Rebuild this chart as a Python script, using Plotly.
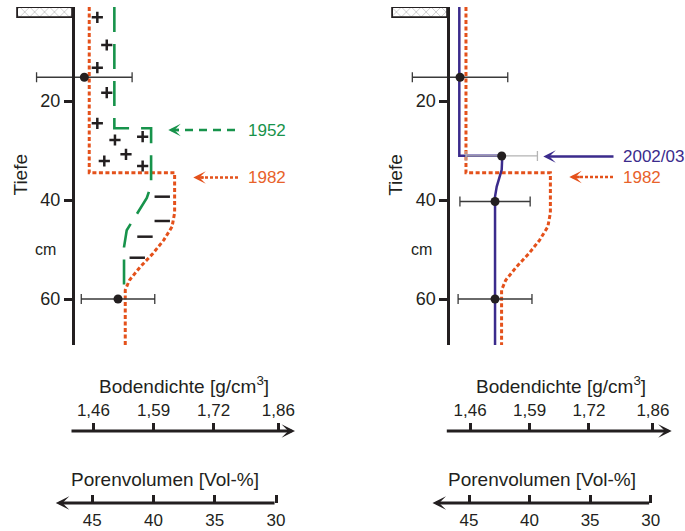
import plotly.graph_objects as go

W, H = 685, 531
INK = "#231F20"
GREEN = "#17934B"
ORANGE = "#E4511B"
ORANGE_TXT = "#E8622A"
PURPLE = "#3B2B8C"
FONT = "Liberation Sans, Arial, sans-serif"

# ---------------- data ----------------
DEPTH_TICKS = [20, 40, 60]
PORE_TICKS = [45, 40, 35, 30]
PORE_TICK_LABELS = ["45", "40", "35", "30"]
DENSITY_TICKS = [1.46, 1.59, 1.72, 1.86]
DENSITY_TICK_LABELS = ["1,46", "1,59", "1,72", "1,86"]
PARTICLE_DENSITY = 2.65

# porosity profiles (Vol-%) vs depth (cm)
P1952_DEPTH = [1.0, 25.5, 25.5, 37.0, 39.6, 44.0, 46.1, 49.5, 58.2]
P1952_PORE = [43.2, 43.2, 40.2, 40.2, 40.55, 41.65, 42.19, 42.41, 42.41]

P1982_DEPTH = [1.0, 34.5, 34.5, 42.6, 45.4, 48.1, 50.8, 53.5, 56.2, 58.2, 69.3]
P1982_PORE = [45.25, 45.25, 38.28, 38.28, 38.49, 39.17, 40.05, 41.08, 41.97, 42.31, 42.31]

P2002_DEPTH = [1.0, 31.05, 31.05, 33.9, 37.3, 39.3, 69.3]
P2002_PORE = [45.8, 45.8, 42.25, 42.3, 42.71, 42.85, 42.85]

# measurements with spread
MEAS_L_DEPTH = [15.2, 60.0]
MEAS_L_PORE = [45.65, 42.9]
MEAS_L_ERR = [3.9, 3.0]

MEAS_R_DEPTH = [15.2, 40.3, 60.0]
MEAS_R_PORE = [45.74, 42.85, 42.85]
MEAS_R_ERR = [3.94, 2.9, 3.05]

MEAS_R_GRAY_DEPTH = [31.1]
MEAS_R_GRAY_PORE = [42.3]
MEAS_R_GRAY_ERR = [2.95]

# + / - signs (change of pore volume)
PLUS_PORE = [44.59, 43.82, 44.59, 43.82, 44.59, 43.15, 40.89, 42.25, 44.02, 40.89]
PLUS_DEPTH = [3.09, 8.69, 13.27, 18.32, 24.5, 27.88, 27.21, 30.77, 32.12, 33.13]
MINUS_PORE = [39.29, 39.29, 40.70, 41.33]
MINUS_DEPTH = [39.33, 44.24, 47.41, 51.66]

# ---------------- geometry (pixels) ----------------
Y0_PX, Y_SCALE = 2.0, 4.95          # depth 0 position, px per cm
Y_TOP_PX, Y_BOT_PX = 7, 345
PANELS = [
    dict(x0=0, x1=340, ref45=92.3, scale=12.25, axis_px=73, xa="x", ya="y", xb="x3"),
    dict(x0=342, x1=685, ref45=469.0, scale=12.11, axis_px=448.3, xa="x2", ya="y2", xb="x4"),
]


def px2pore(p, x):
    return 45 - (x - p["ref45"]) / p["scale"]


def px2depth(y):
    return (y - Y0_PX) / Y_SCALE


def ypaper(y):
    return 1 - y / H


fig = go.Figure()
annotations = []
layout = {}

POS_DENS = ypaper(431)
POS_PORE = ypaper(503)

for i, p in enumerate(PANELS):
    xa, ya, xb = p["xa"], p["ya"], p["xb"]
    sfx = "" if i == 0 else "2"
    xr = [px2pore(p, p["x0"]), px2pore(p, p["x1"])]
    yr = [px2depth(Y_BOT_PX), px2depth(Y_TOP_PX)]
    dom = [p["x0"] / W, p["x1"] / W]

    layout["xaxis" + sfx] = dict(
        domain=dom, range=xr, anchor="free", position=POS_PORE, side="bottom",
        showline=False, showgrid=False, zeroline=False,
        ticks="inside", ticklen=8, tickwidth=3, tickcolor=INK, ticklabelstandoff=5,
        tickvals=PORE_TICKS, ticktext=PORE_TICK_LABELS,
        tickfont=dict(size=17, color=INK, family=FONT),
    )
    layout["xaxis" + xb[1:]] = dict(
        overlaying=xa, range=xr, anchor="free", position=POS_DENS, side="top",
        showline=False, showgrid=False, zeroline=False,
        ticks="outside", ticklen=8, tickwidth=3, tickcolor=INK,
        tickvals=[100 * (1 - d / PARTICLE_DENSITY) for d in DENSITY_TICKS],
        ticktext=DENSITY_TICK_LABELS,
        tickfont=dict(size=17, color=INK, family=FONT),
    )
    layout["yaxis" + sfx] = dict(
        domain=[ypaper(Y_BOT_PX), ypaper(Y_TOP_PX)], range=yr,
        anchor="free", position=p["axis_px"] / W, side="left",
        showline=True, linewidth=3, linecolor=INK, showgrid=False, zeroline=False,
        ticks="outside", ticklen=8, tickwidth=3, tickcolor=INK,
        tickvals=DEPTH_TICKS, tickfont=dict(size=18, color=INK, family=FONT),
    )

    # surface symbol (hatched box)
    b_right = px2pore(p, p["axis_px"])
    b_left = px2pore(p, p["axis_px"] - 55)
    fig.add_trace(go.Bar(
        orientation="h", y=[px2depth(13)], x=[b_left - b_right], base=[b_right],
        width=[2.1], xaxis=xa, yaxis=ya, hoverinfo="skip",
        marker=dict(color="white", line=dict(color=INK, width=1.8),
                    pattern=dict(shape="x", fgcolor="#7a7a7a", bgcolor="white", size=7, solidity=0.2)),
    ))
    # dummy trace to render the density axis
    fig.add_trace(go.Scatter(x=[40], y=[30], xaxis=xb, yaxis=ya, mode="markers",
                             marker=dict(opacity=0), hoverinfo="skip"))

    # bottom axis lines with arrow heads
    annotations.append(dict(xref=xa, yref="paper", x=px2pore(p, p["ref45"] + 202.7), y=POS_DENS,
                            axref=xa, ayref="pixel", ax=px2pore(p, p["axis_px"] - 3), ay=0,
                            text="", showarrow=True, arrowhead=3, arrowsize=0.75, arrowwidth=3,
                            arrowcolor=INK, standoff=0, startstandoff=0))
    annotations.append(dict(xref=xa, yref="paper", x=px2pore(p, p["ref45"] - 36.5), y=POS_PORE,
                            axref=xa, ayref="pixel", ax=30, ay=0,
                            text="", showarrow=True, arrowhead=3, arrowsize=0.75, arrowwidth=3,
                            arrowcolor=INK, standoff=0, startstandoff=0))
    # axis titles
    annotations.append(dict(xref=xa, yref="paper", x=px2pore(p, p["ref45"] + 92), y=ypaper(385),
                            xanchor="center", yanchor="middle",
                            text="Bodendichte [g/cm<sup>3</sup>]", showarrow=False,
                            font=dict(size=19, color=INK, family=FONT)))
    annotations.append(dict(xref=xa, yref="paper", x=px2pore(p, p["ref45"] + 72.5), y=ypaper(479),
                            xanchor="center", yanchor="middle",
                            text="Porenvolumen [Vol-%]", showarrow=False,
                            font=dict(size=19, color=INK, family=FONT)))
    annotations.append(dict(xref="paper", yref="paper", x=(p["axis_px"] - 53.5) / W, y=ypaper(175),
                            xanchor="center", yanchor="middle",
                            text="Tiefe", textangle=-90, showarrow=False,
                            font=dict(size=19, color=INK, family=FONT)))
    annotations.append(dict(xref="paper", yref="paper", x=(p["axis_px"] - 27.3) / W, y=ypaper(249),
                            xanchor="center", yanchor="middle",
                            text="cm", showarrow=False,
                            font=dict(size=16, color=INK, family=FONT)))

L, R = PANELS

# ---------------- left panel ----------------
fig.add_trace(go.Scatter(x=P1982_PORE, y=P1982_DEPTH, xaxis="x", yaxis="y", mode="lines",
                         line=dict(color=ORANGE, width=3, dash="4px,2.5px"), hoverinfo="skip"))
fig.add_trace(go.Scatter(x=P1952_PORE, y=P1952_DEPTH, xaxis="x", yaxis="y", mode="lines",
                         line=dict(color=GREEN, width=2.6, dash="25px,12px"), hoverinfo="skip"))
fig.add_trace(go.Scatter(x=PLUS_PORE, y=PLUS_DEPTH, xaxis="x", yaxis="y", mode="markers",
                         marker=dict(symbol="cross-thin", size=8, line=dict(color=INK, width=2.5)),
                         hoverinfo="skip"))
fig.add_trace(go.Scatter(x=MINUS_PORE, y=MINUS_DEPTH, xaxis="x", yaxis="y", mode="markers",
                         marker=dict(symbol="line-ew", size=11, line=dict(color=INK, width=2.5)),
                         hoverinfo="skip"))
fig.add_trace(go.Scatter(x=MEAS_L_PORE, y=MEAS_L_DEPTH, xaxis="x", yaxis="y", mode="markers",
                         marker=dict(size=9, color=INK),
                         error_x=dict(type="data", array=MEAS_L_ERR, color="#3a3a3a", thickness=1.3, width=5),
                         hoverinfo="skip"))

# ---------------- right panel ----------------
fig.add_trace(go.Scatter(x=P1982_PORE, y=P1982_DEPTH, xaxis="x2", yaxis="y2", mode="lines",
                         line=dict(color=ORANGE, width=3, dash="4px,2.5px"), hoverinfo="skip"))
fig.add_trace(go.Scatter(x=P2002_PORE, y=P2002_DEPTH, xaxis="x2", yaxis="y2", mode="lines",
                         line=dict(color=PURPLE, width=2.5), hoverinfo="skip"))
fig.add_trace(go.Scatter(x=MEAS_R_GRAY_PORE, y=MEAS_R_GRAY_DEPTH, xaxis="x2", yaxis="y2", mode="markers",
                         marker=dict(size=9, color=INK),
                         error_x=dict(type="data", array=MEAS_R_GRAY_ERR, color="#b4b4b4", thickness=1.3, width=5),
                         hoverinfo="skip"))
fig.add_trace(go.Scatter(x=MEAS_R_PORE, y=MEAS_R_DEPTH, xaxis="x2", yaxis="y2", mode="markers",
                         marker=dict(size=9, color=INK),
                         error_x=dict(type="data", array=MEAS_R_ERR, color="#3a3a3a", thickness=1.3, width=5),
                         hoverinfo="skip"))

# ---------------- year labels with arrows ----------------
LABELS = [
    (L, "x", "y", "1952", 130.0, 235.0, 168.3, 247.3, GREEN, GREEN, "8px,6px"),
    (L, "x", "y", "1982", 177.5, 238.0, 193.3, 247.3, ORANGE, ORANGE_TXT, "3px,2px"),
    (R, "x2", "y2", "2002/03", 156.5, 615.0, 543.3, 622.0, PURPLE, PURPLE, None),
    (R, "x2", "y2", "1982", 177.0, 613.0, 569.3, 622.0, ORANGE, ORANGE_TXT, "3px,2px"),
]
for p, xa, ya, txt, ypx, tail, tip, tx, col, tcol, dash in LABELS:
    d = px2depth(ypx)
    if dash:
        fig.add_trace(go.Scatter(x=[px2pore(p, tail), px2pore(p, tip + 8)], y=[d, d], xaxis=xa, yaxis=ya,
                                 mode="lines", line=dict(color=col, width=2.6, dash=dash), hoverinfo="skip"))
        annotations.append(dict(xref=xa, yref=ya, x=px2pore(p, tip), y=d, axref="pixel", ayref="pixel",
                                ax=12, ay=0, text="", showarrow=True, arrowhead=3, arrowsize=0.8,
                                arrowwidth=2.6, arrowcolor=col, standoff=0, startstandoff=0))
    else:
        annotations.append(dict(xref=xa, yref=ya, x=px2pore(p, tip), y=d, axref=xa, ayref="pixel",
                                ax=px2pore(p, tail), ay=0, text="", showarrow=True, arrowhead=3,
                                arrowsize=0.8, arrowwidth=2.6, arrowcolor=col, standoff=0, startstandoff=0))
    annotations.append(dict(xref=xa, yref=ya, x=px2pore(p, tx), y=d, xanchor="left", yanchor="middle",
                            borderpad=0, text=txt, showarrow=False,
                            font=dict(size=17, color=tcol, family=FONT)))

fig.update_layout(
    width=W, height=H, margin=dict(l=0, r=0, t=0, b=0),
    paper_bgcolor="white", plot_bgcolor="white", showlegend=False,
    font=dict(family=FONT, color=INK), annotations=annotations, bargap=0,
    **layout,
)

fig.write_html("out.html")
